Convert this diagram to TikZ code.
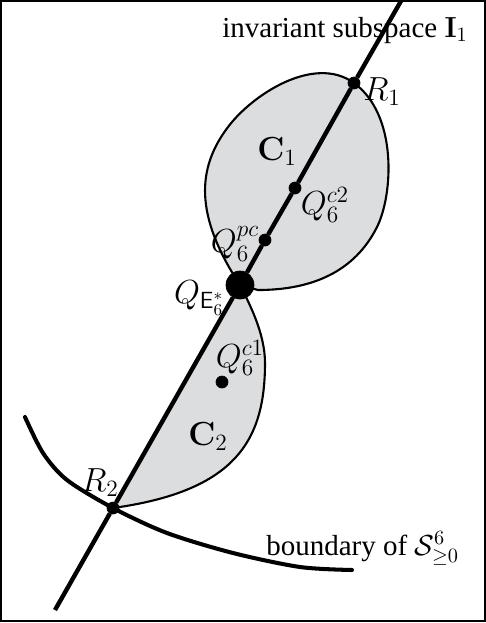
\RequirePackage{fix-cm}
\documentclass[tikz,border=0pt]{standalone}
\usepackage[no-math]{fontspec}
\setmainfont{Liberation Serif}
\usepackage{amsmath,amssymb}

\definecolor{regiongray}{RGB}{220,221,223}

\newcommand*{\pw}{486}
\newcommand*{\ph}{623}

\begin{document}
\begin{tikzpicture}
[
	x=0.02cm, y=-0.02cm,
	closedpt/.style={circle,draw,fill,inner sep=0pt,minimum size=0.24cm},
	bigpt/.style={circle,draw,fill,inner sep=0pt,minimum size=0.56cm},
	region/.style={fill=regiongray,draw,line width=1.2pt},
	lbl/.style={inner sep=0pt,font=\fontsize{19}{22}\selectfont},
	txt/.style={inner sep=0pt,anchor=base west,font=\fontsize{16.5}{19}\selectfont}
]

	\useasboundingbox (0,0) rectangle (\pw,\ph);
	\draw[line width=1.1pt] (1,1) rectangle (485,621);

	% points on the invariant subspace
	\coordinate (itop) at (401,1);
	\coordinate (ibot) at (55,610);
	\coordinate (r1) at (354,83);
	\coordinate (qe) at (240,285);
	\coordinate (r2) at (113,508);

	% region C1
	\draw[region] (qe)
	  .. controls (194,215) and (197,168) .. (228,127)
	  .. controls (252,95) and (314,54) .. (r1)
	  .. controls (398,115) and (393,195) .. (377,227)
	  .. controls (355,271) and (313,290) .. (258,290)
	  -- cycle;

	% region C2
	\draw[region] (qe) -- (r2)
	  .. controls (236,491) and (265,440) .. (265,363)
	  .. controls (265,333) and (249,303) .. (qe)
	  -- cycle;

	% boundary of the cone
	\draw[line width=2.3pt,line cap=round] plot[smooth] coordinates {
	  (25,417) (43,453) (67,480) (r2) (167,533) (233,553) (300,567) (352,570)};

	\node[closedpt] (R1) at (r1) {};
	\node[closedpt] (Qc2) at (295,188) {};
	\node[closedpt] (Qpc) at (265,240) {};
	\node[bigpt] (QE) at (qe) {};
	\node[closedpt] (R2) at (r2) {};
	\node[closedpt] (Qc1) at (222,382) {};

	\draw[line width=2.5pt] (itop) -- (R1) -- (Qc2) -- (Qpc) -- (QE) -- (R2) -- (ibot);

	\node[lbl] (R1lbl) at (382,92) {$R_1$};
	\node[lbl] (C1lbl) at (277,152) {$\mathbf{C}_1$};
	\node[lbl] (Qc2lbl) at (325,205) {$Q_6^{c2}$};
	\node[lbl] (Qpclbl) at (235,244) {$Q_6^{pc}$};
	\node[lbl] (QElbl) at (199,298) {$Q_{\mathsf{E}_6^*}$};
	\node[lbl] (Qc1lbl) at (240,358) {$Q_6^{c1}$};
	\node[lbl] (C2lbl) at (208,437) {$\mathbf{C}_2$};
	\node[lbl] (R2lbl) at (100,483) {$R_2$};

	\node[txt] (inv) at (222,37) {invariant subspace $\mathbf{I}_1$};
	\node[txt] (bnd) at (266,555) {boundary of $\mathcal{S}^6_{\geq 0}$};

\end{tikzpicture}
\end{document}
